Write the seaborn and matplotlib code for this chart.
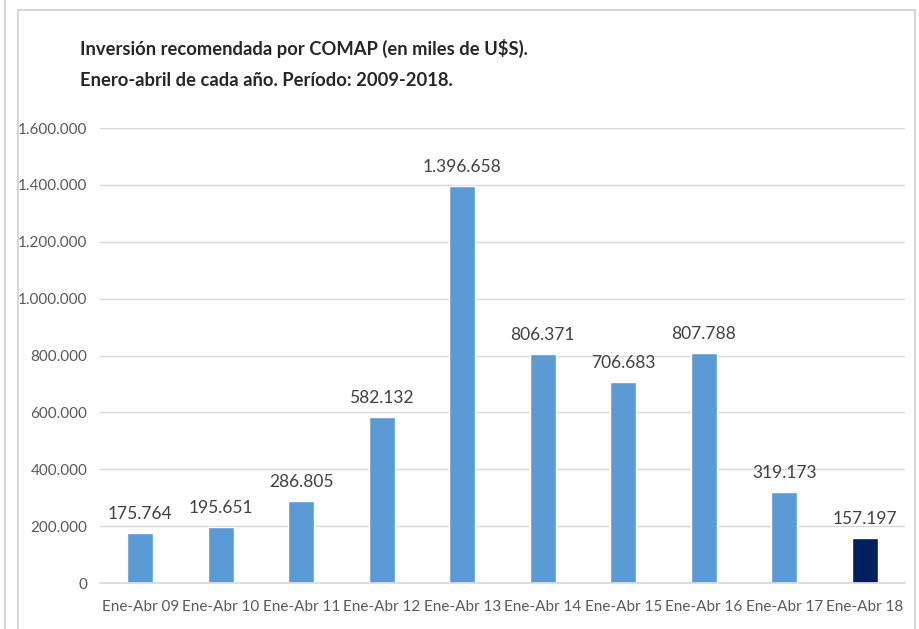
import matplotlib
matplotlib.use("Agg")
import matplotlib.pyplot as plt
import seaborn as sns
import pandas as pd
from matplotlib.patches import Rectangle
from matplotlib.lines import Line2D

# datos
periodos = ["Ene-Abr 09", "Ene-Abr 10", "Ene-Abr 11", "Ene-Abr 12", "Ene-Abr 13",
            "Ene-Abr 14", "Ene-Abr 15", "Ene-Abr 16", "Ene-Abr 17", "Ene-Abr 18"]
inversion = [175764, 195651, 286805, 582132, 1396658,
             806371, 706683, 807788, 319173, 157197]
y_ticks = [0, 200000, 400000, 600000, 800000, 1000000, 1200000, 1400000, 1600000]

def fmt_miles(v):
    return f"{v:,.0f}".replace(",", ".")

df = pd.DataFrame({"periodo": periodos, "inversion": inversion})
colores = ["#5B9BD5"] * (len(periodos) - 1) + ["#002060"]

sns.set_theme(style="white")
plt.rcParams["font.family"] = ["Lato", "DejaVu Sans"]

fig = plt.figure(figsize=(9.19, 6.29), dpi=100)
ax = fig.add_axes([0.1088, 0.0731, 0.876, 0.7234])

sns.barplot(data=df, x="periodo", y="inversion", hue="periodo",
            palette=colores, legend=False, width=0.32, ax=ax, saturation=1)

ax.set_ylim(0, 1600000)
ax.set_yticks(y_ticks)
ax.set_yticklabels([fmt_miles(t) for t in y_ticks], color="#595959", fontsize=11)
ax.tick_params(axis="x", labelcolor="#595959", labelsize=11, length=0, pad=12)
ax.tick_params(axis="y", length=0, pad=9)
ax.set_xlabel("")
ax.set_ylabel("")
ax.grid(axis="y", color="#D9D9D9", linewidth=1)
ax.set_axisbelow(True)
for s in ["top", "right", "left"]:
    ax.spines[s].set_visible(False)
ax.spines["bottom"].set_color("#D9D9D9")

for i, v in enumerate(inversion):
    ax.annotate(fmt_miles(v), (i, v), xytext=(0, 8), textcoords="offset points",
                ha="center", va="bottom", fontsize=12.5, color="#404040")

fig.text(80 / 919, 1 - 48 / 629, "Inversión recomendada por COMAP (en miles de U$S).",
         fontsize=13.2, fontweight="bold", color="#262626", va="center", ha="left")
fig.text(80 / 919, 1 - 80 / 629, "Enero-abril de cada año. Período: 2009-2018.",
         fontsize=13.2, fontweight="bold", color="#262626", va="center", ha="left")

# marco del grafico
fig.patches.append(Rectangle((18 / 919, -0.05), (915 - 18) / 919, 1 - 10 / 629 + 0.05,
                             transform=fig.transFigure, fill=False,
                             edgecolor="#D0D0D0", linewidth=1.2))
fig.lines.append(Line2D([5 / 919, 5 / 919], [0, 1], transform=fig.transFigure,
                        color="#D0D0D0", linewidth=1.2))

fig.savefig("out.png", dpi=100)
